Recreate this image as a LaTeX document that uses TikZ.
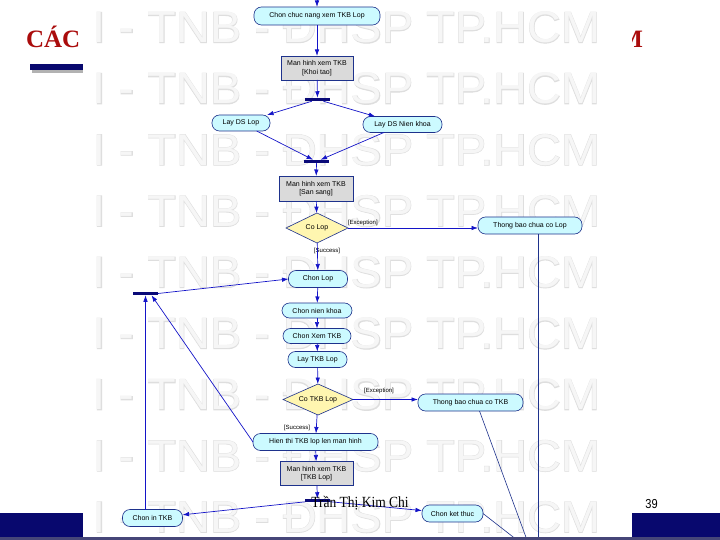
\documentclass[tikz,border=0pt]{standalone}
\usepackage{fontspec}
\setmainfont{Liberation Serif}
\setsansfont{Liberation Sans}
\newfontfamily\wmfont{Liberation Sans}
\newfontfamily\wmboldfont[FakeBold=2]{Liberation Sans}
\usetikzlibrary{arrows.meta,shapes.geometric,calc}
\definecolor{navybar}{RGB}{8,8,110}
\definecolor{titlered}{RGB}{170,12,12}
\definecolor{actfill}{RGB}{204,250,255}
\definecolor{nodeline}{RGB}{30,50,140}
\definecolor{statefill}{RGB}{218,218,218}
\definecolor{decfill}{RGB}{255,246,176}
\definecolor{flowcol}{RGB}{20,20,200}
\definecolor{barcol}{RGB}{10,10,120}
\definecolor{wmline}{RGB}{222,222,222}
\definecolor{wmfill}{RGB}{246,246,246}
\definecolor{bottomline}{RGB}{70,70,120}
\begin{document}
\begin{tikzpicture}[x=1pt,y=-1pt,
  every node/.style={inner sep=0pt, outer sep=0pt},
  act/.style={draw=nodeline, line width=0.6pt, fill=actfill, rounded corners=7.5pt, font=\sffamily\fontsize{7}{8}\selectfont, minimum height=17pt},
  state/.style={draw=nodeline, line width=0.6pt, fill=statefill, font=\sffamily\fontsize{7}{8.5}\selectfont, align=center, minimum height=24pt},
  dec/.style={diamond, aspect=2.2, draw=nodeline, line width=0.6pt, fill=decfill, font=\sffamily\fontsize{7}{8}\selectfont},
  syncbar/.style={fill=barcol, minimum height=3.5pt, minimum width=25pt},
  guard/.style={font=\sffamily\fontsize{6}{7}\selectfont},
  flow/.style={draw=flowcol, line width=0.7pt, -{Latex[length=6.5pt,width=4.5pt]}},
  wire/.style={draw=nodeline, line width=0.6pt},
  wmA/.style={text=wmline},
  wmB/.style={text=wmfill}
]
\useasboundingbox (0,0) rectangle (720,540);
\fill[white] (0,0) rectangle (720,540);
% slide elements behind the picture
\node[anchor=base west, text=titlered, font=\bfseries\fontsize{25}{28}\selectfont] (title) at (26,48) {CÁC};
\node[anchor=base east, text=titlered, font=\bfseries\fontsize{25}{28}\selectfont] (titleM) at (643,48) {M};
\fill[black!30] (32,67) rectangle (85,73);
\fill[navybar] (30,64) rectangle (83,70);
\fill[navybar] (0,513) rectangle (83,537);
\fill[navybar] (632,513) rectangle (720,537);
% picture area
\fill[white] (83,0) rectangle (632,537);
% watermark
\foreach \k in {0,...,8} {
  \node[wmA] (wma\k) at (346.5,27.5+61.2*\k) {\resizebox{507pt}{31pt}{\wmboldfont I - TNB - ĐHSP TP.HCM}};
  \node[wmB] (wmb\k) at (346.5,27.5+61.2*\k) {\resizebox{507pt}{31pt}{\wmfont I - TNB - ĐHSP TP.HCM}};
}
% nodes
\coordinate (top) at (317,0);
\node[act, minimum width=126pt, minimum height=18pt] (n1) at (317,16) {Chon chuc nang xem TKB Lop};
\node[state, minimum width=72pt] (n2) at (317,68) {Man hinh xem TKB\\{}[Khoi tao]};
\node[syncbar] (f1) at (317.5,99.5) {};
\node[act, minimum width=58pt, minimum height=16pt] (n4) at (241,123) {Lay DS Lop};
\node[act, minimum width=79pt, minimum height=16pt] (n5) at (402.5,124.5) {Lay DS Nien khoa};
\node[syncbar] (j1) at (316.5,161.5) {};
\node[state, minimum width=74pt, minimum height=25pt] (n7) at (316,188.5) {Man hinh xem TKB\\{}[San sang]};
\node[dec, minimum width=62pt, minimum height=30pt] (d1) at (317,228) {Co Lop};
\node[act, minimum width=104pt] (n9) at (530,225.5) {Thong bao chua co Lop};
\node[act, minimum width=59pt] (n10) at (318,279) {Chon Lop};
\node[syncbar] (b2) at (145.5,293.5) {};
\node[act, minimum width=70pt, minimum height=15pt] (n12) at (317,310.5) {Chon nien khoa};
\node[act, minimum width=68pt, minimum height=15pt] (n13) at (317,336) {Chon Xem TKB};
\node[act, minimum width=59pt, minimum height=16pt] (n14) at (317.5,359.5) {Lay TKB Lop};
\node[dec, minimum width=70pt, minimum height=31pt] (d2) at (318,399.5) {Co TKB Lop};
\node[act, minimum width=105pt] (n16) at (470.5,402.5) {Thong bao chua co TKB};
\node[act, minimum width=125pt] (n17) at (315.5,442) {Hien thi TKB lop len man hinh};
\node[state, minimum width=73pt] (n18) at (316.5,473.5) {Man hinh xem TKB\\{}[TKB Lop]};
\node[syncbar] (b3) at (317.5,500.5) {};
\node[act, minimum width=60pt] (n19) at (152.5,518) {Chon in TKB};
\node[act, minimum width=61pt] (n20) at (452.5,513.5) {Chon ket thuc};
\coordinate (end1) at (538,540);
\coordinate (end2) at (527,540);
\coordinate (end3) at (517,540);
% guards
\node[guard, anchor=west] (g1) at (348,222.5) {[Exception]};
\node[guard] (g2) at (327,251) {[Success]};
\node[guard] (g3) at (379,391) {[Exception]};
\node[guard] (g4) at (297,428) {[Success]};
% connectors
\draw[flow] (top) -- (n1);
\draw[flow] (n1) -- (n2);
\draw[flow] (n2) -- (f1);
\draw[flow] (f1) -- (n4);
\draw[flow] (f1) -- (n5);
\draw[flow] (n4) -- (j1);
\draw[flow] (n5) -- (j1);
\draw[flow] (j1) -- (n7);
\draw[flow] (n7) -- (d1);
\draw[flow] (d1.east) -- (d1.east -| n9.west);
\draw[wire] (end1 |- n9.south) -- (end1);
\draw[flow] (d1) -- (n10);
\draw[flow] (b2.east) -- (n10.west);
\draw[flow] (n10) -- (n12);
\draw[flow] (n12) -- (n13);
\draw[flow] (n13) -- (n14);
\draw[flow] (n14) -- (d2);
\draw[flow] (d2.east) -- (d2.east -| n16.west);
\draw[wire] ([xshift=9pt]n16.south) -- (end2);
\draw[flow] (d2) -- (n17);
\draw[flow] (n17) -- (n18);
\draw[flow] (n18) -- (b3);
\draw[flow] (b3) -- (n19);
\draw[flow] (b3) -- (n20);
\draw[wire] (n20.east) -- (end3);
\draw[flow] (n17.west) -- ([xshift=6pt]b2.south);
\draw[flow] (n19.north -| b2.south) -- (b2.south);
% bottom line and footer
\fill[bottomline] (0,537) rectangle (720,540);
\node[font=\fontsize{15.5}{17}\selectfont, xscale=0.87] (footer) at (360,503) {Trần Thị Kim Chi};
\node[font=\sffamily\fontsize{13}{15}\selectfont, xscale=0.85] (pageno) at (651.5,504) {39};
\end{tikzpicture}
\end{document}
